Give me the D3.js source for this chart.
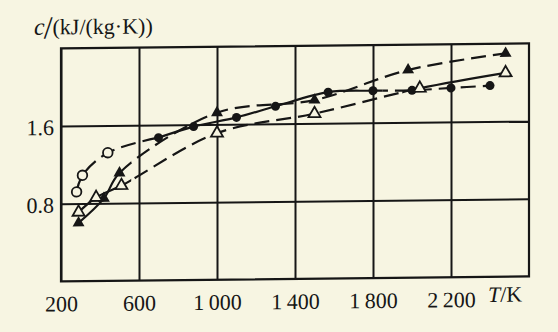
<!DOCTYPE html>
<html>
<head>
<meta charset="utf-8">
<script src="https://cdn.jsdelivr.net/npm/d3@7"></script>
<style>
  html, body { margin: 0; padding: 0; background: #f7f5e2; }
  svg { display: block; }
</style>
</head>
<body>
<svg id="chart"></svg>
<script>
// temperature axis ticks (K) and heat capacity ticks
const xTicks = [200, 600, 1000, 1400, 1800, 2200];
const yTicks = [0.8, 1.6];

// filled circles
const fcT = [700, 880, 1100, 1300, 1570, 1800, 2000, 2200, 2400];
const fcC = [1.47, 1.58, 1.67, 1.78, 1.92, 1.93, 1.93, 1.95, 1.97];
// open circles
const ocT = [280, 310, 440];
const ocC = [0.92, 1.09, 1.32];
// filled triangles
const ftT = [290, 420, 500, 1000, 1500, 1980, 2480];
const ftC = [0.60, 0.85, 1.11, 1.72, 1.84, 2.14, 2.30];
// open triangles
const otT = [290, 380, 510, 1000, 1500, 2040, 2480];
const otC = [0.71, 0.86, 0.98, 1.51, 1.70, 1.95, 2.10];

const width = 558, height = 332;
const bg = '#f7f5e2', ink = '#161616';
const margin = {left: 61, right: 30, top: 49, bottom: 50};

const svg = d3.select('#chart')
  .attr('width', width)
  .attr('height', height)
  .style('background-color', bg);

// the printed figure is slightly skewed (right side sits higher)
const root = svg.append('g').attr('transform', 'skewY(-0.6)');

const x = d3.scaleLinear().domain([200, 2600]).range([margin.left, width - margin.right + 1]);
const y = d3.scaleLinear().domain([0, 2.4]).range([height - margin.bottom, margin.top]);

const fmt = d => d >= 1000 ? String(d).replace(/(\d)(\d{3})$/, '$1\u2009$2') : String(d);

// vertical grid + x labels
const xAxis = root.append('g')
  .attr('transform', `translate(0,${y(0)})`)
  .call(d3.axisBottom(x).tickValues(xTicks).tickSize(-(y(0) - y(2.4))).tickFormat(fmt));
xAxis.select('.domain').remove();
xAxis.selectAll('line').attr('stroke', ink).attr('stroke-width', 2);
xAxis.selectAll('text')
  .attr('y', 30).attr('dy', 0)
  .style('font-family', 'Liberation Serif')
  .style('font-size', '22px')
  .attr('fill', ink);

// horizontal grid + y labels
const yAxis = root.append('g')
  .attr('transform', `translate(${x(200)},0)`)
  .call(d3.axisLeft(y).tickValues(yTicks).tickSize(-(x(2600) - x(200))).tickPadding(7).tickFormat(d3.format('.1f')));
yAxis.select('.domain').remove();
yAxis.selectAll('line').attr('stroke', ink).attr('stroke-width', 2);
yAxis.selectAll('text')
  .attr('dy', '0.38em')
  .style('font-family', 'Liberation Serif')
  .style('font-size', '22px')
  .attr('fill', ink);

// frame
root.append('rect')
  .attr('x', x(200)).attr('y', y(2.4))
  .attr('width', x(2600) - x(200)).attr('height', y(0) - y(2.4))
  .attr('fill', 'none').attr('stroke', ink).attr('stroke-width', 2.2);

// axis titles
const yTitle = root.append('text')
  .attr('x', 34).attr('y', 35)
  .style('font-family', 'Liberation Serif')
  .attr('fill', ink);
yTitle.append('tspan').style('font-style', 'italic').style('font-size', '24px').text('c');
yTitle.append('tspan').style('font-size', '32px').attr('dy', 4).attr('dx', -1).text('/');
yTitle.append('tspan').style('font-size', '22px').attr('dy', -4).text('(kJ/(kg\u00b7K))');

const xTitle = root.append('text')
  .attr('x', 488).attr('y', 307)
  .style('font-family', 'Liberation Serif')
  .style('font-size', '22px')
  .attr('fill', ink);
xTitle.append('tspan').style('font-style', 'italic').text('T');
xTitle.append('tspan').text('/K');

// series
const zip = (ts, cs) => ts.map((t, i) => ({t, c: cs[i]}));
const fc = zip(fcT, fcC), oc = zip(ocT, ocC), ft = zip(ftT, ftC), ot = zip(otT, otC);

const line = d3.line().x(d => x(d.t)).y(d => y(d.c)).curve(d3.curveCatmullRom.alpha(0.5));
const defs = svg.append('defs');
const dash = '15,7';

const series = [
  {id: 'oc', pts: oc.concat([fc[0]]), segs: [[200, 2600, dash]]},
  {id: 'fc', pts: fc, segs: [[200, 1850, null], [1850, 2600, dash]]},
  {id: 'ft', pts: ft, segs: [[200, 560, null], [560, 2600, dash]]},
  {id: 'ot', pts: ot, segs: [[200, 560, null], [560, 1950, dash], [1950, 2600, null]]}
];

const lines = root.append('g');
series.forEach(s => {
  s.segs.forEach((seg, i) => {
    const cid = `clip-${s.id}-${i}`;
    defs.append('clipPath').attr('id', cid)
      .append('rect')
      .attr('x', x(seg[0])).attr('y', 0)
      .attr('width', x(seg[1]) - x(seg[0])).attr('height', height);
    lines.append('path')
      .datum(s.pts)
      .attr('d', line)
      .attr('clip-path', `url(#${cid})`)
      .attr('fill', 'none')
      .attr('stroke', ink)
      .attr('stroke-width', 2.2)
      .attr('stroke-dasharray', seg[2]);
  });
});

// markers
const marks = root.append('g');
marks.selectAll('.fc').data(fc).enter().append('circle')
  .attr('cx', d => x(d.t)).attr('cy', d => y(d.c)).attr('r', 4.5)
  .attr('fill', ink);
marks.selectAll('.oc').data(oc).enter().append('circle')
  .attr('cx', d => x(d.t)).attr('cy', d => y(d.c)).attr('r', 4.8)
  .attr('fill', bg).attr('stroke', ink).attr('stroke-width', 1.8);
const tri = d3.symbol().type(d3.symbolTriangle).size(62);
marks.selectAll('.ft').data(ft).enter().append('path')
  .attr('d', tri)
  .attr('transform', d => `translate(${x(d.t)},${y(d.c)})`)
  .attr('fill', ink);
marks.selectAll('.ot').data(ot).enter().append('path')
  .attr('d', tri)
  .attr('transform', d => `translate(${x(d.t)},${y(d.c)})`)
  .attr('fill', bg).attr('stroke', ink).attr('stroke-width', 1.8);
</script>
</body>
</html>
